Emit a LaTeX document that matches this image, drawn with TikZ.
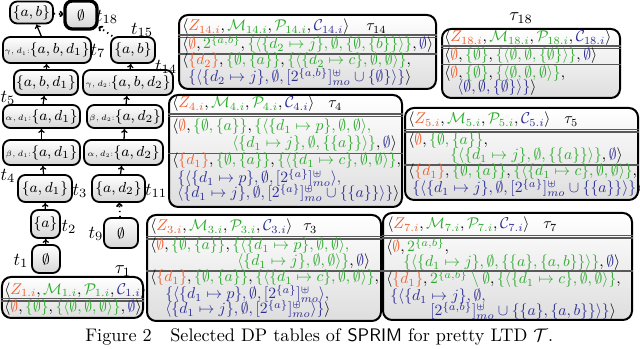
\RequirePackage{fix-cm}
\documentclass[tikz,border=0pt]{standalone}
\usepackage{amsmath,amssymb}
\usepackage{graphicx}
\usetikzlibrary{arrows.meta}
\definecolor{zor}{RGB}{240,95,45}
\definecolor{mgr}{RGB}{45,170,45}
\definecolor{cbl}{RGB}{45,45,150}
\newcommand{\zcol}[1]{\textcolor{zor}{#1}}
\newcommand{\gcol}[1]{\textcolor{mgr}{#1}}
\newcommand{\bcol}[1]{\textcolor{cbl}{#1}}
\newcommand{\es}{\emptyset}
\newcommand{\upm}[1]{[2^{\{#1\}}]^{\uplus}_{mo}}
\newcommand{\rowm}[1]{\scalebox{0.86}{$#1$}}
\newcommand{\hdr}[1]{\rowm{\langle\zcol{Z_{#1.i}},\gcol{\mathcal{M}_{#1.i}},\gcol{\mathcal{P}_{#1.i}},\bcol{\mathcal{C}_{#1.i}}\rangle}}
\newcommand{\pre}[1]{{\fontsize{4.3}{5}\selectfont$#1$:}}
\tikzset{
  sz/.style 2 args={minimum width=#1*0.55pt, minimum height=#2*0.55pt},
  tnode/.style={draw=black, line width=1pt, rounded corners=4pt, top color=white, bottom color=black!16, inner sep=0pt, font=\fontsize{8}{9}\selectfont},
  tblbox/.style={draw=black, line width=1.1pt, rounded corners=5pt, top color=white, bottom color=black!13, inner sep=0pt},
  trow/.style={anchor=base west, inner sep=0pt, font=\fontsize{10}{12}\selectfont},
  lab/.style={inner sep=0pt, font=\fontsize{10}{11}\selectfont},
  rulel/.style={draw=black!65, line width=0.75pt},
  arr/.style={-{To[length=2.2pt,width=3.6pt]}, line width=0.7pt},
  darr/.style={arr, dotted, line width=1pt},
}
\begin{document}
\begin{tikzpicture}[x=0.55pt, y=-0.55pt]
\useasboundingbox (0,0) rectangle (640,349);
% ---------- tree ----------
\node[tnode, sz={32}{28}, line width=1.8pt] (n18) at (81,15) {$\es$};
\node[tnode, sz={43}{22}] (nab) at (31.5,12.5) {$\{a,b\}$};
\node[tnode, sz={88}{26}] (n7) at (47,50) {\pre{\gamma,d_1}$\{a,b,d_1\}$};
\node[tnode, sz={44}{26}] (n15) at (133,50) {$\{a,b\}$};
\node[tnode, sz={64}{25}] (n6) at (46,82.5) {$\{a,b,d_1\}$};
\node[tnode, sz={90}{25}] (n14) at (128,82.5) {\pre{\gamma,d_2}$\{a,b,d_2\}$};
\node[tnode, sz={77}{23}] (n5) at (41.5,116.5) {\pre{\alpha,d_1}$\{a,d_1\}$};
\node[tnode, sz={76}{23}] (n13) at (125,116.5) {\pre{\beta,d_2}$\{a,d_2\}$};
\node[tnode, sz={77}{25}] (n4) at (41.5,152.5) {\pre{\beta,d_1}$\{a,d_1\}$};
\node[tnode, sz={79}{25}] (n12) at (123.5,152.5) {\pre{\alpha,d_2}$\{a,d_2\}$};
\node[tnode, sz={54}{27}] (n3) at (45,188.5) {$\{a,d_1\}$};
\node[tnode, sz={53}{27}] (n11) at (118.5,188.5) {$\{a,d_2\}$};
\node[tnode, sz={29}{28}] (n2) at (45.5,224) {$\{a\}$};
\node[tnode, sz={34}{30}] (n9) at (121,233) {$\es$};
\node[tnode, sz={28}{28}] (n1) at (46,259) {$\es$};
% labels
\node[lab] (l18) at (107,17) {$t_{18}$};
\node[lab] (l7) at (98,51) {$t_{7}$};
\node[lab] (l15) at (142,30) {$t_{15}$};
\node[lab] (l14) at (166,67) {$t_{14}$};
\node[lab] (l5) at (8,98) {$t_{5}$};
\node[lab] (l4) at (8,176) {$t_{4}$};
\node[lab] (l3) at (80,191) {$t_{3}$};
\node[lab] (l11) at (156,191) {$t_{11}$};
\node[lab] (l2) at (69,227) {$t_{2}$};
\node[lab] (l9) at (96,234) {$t_{9}$};
\node[lab] (l1) at (21,261) {$t_{1}$};
% connectors
\draw[arr] (n1) -- (n2);
\draw[arr] (n2) -- (n3);
\draw[arr] (n3) -- (n4);
\draw[arr] (n4) -- (n5);
\draw[arr] (n5) -- (n6);
\draw[arr] (n6) -- (n7);
\draw[arr] (n7) -- (nab);
\draw[arr] (n11) -- (n12);
\draw[arr] (n12) -- (n13);
\draw[arr] (n13) -- (n14);
\draw[arr] (n14) -- (n15);
\draw[darr] (n9) -- (n11);
\draw[darr] (nab) -- (n18);
\draw[darr] (n15) -- (n18);
% ---------- tau 14 ----------
\node[tblbox, sz={257}{74}] (T14) at (307.5,52) {};
\node[trow] (h14) at (182,31) {\hdr{14}};
\node[trow] (k14) at (366,31) {\rowm{\tau_{14}}};
\draw[rulel] (T14.west |- 0,35) -- (T14.east |- 0,35);
\draw[rulel] (T14.west |- 0,37.5) -- (T14.east |- 0,37.5);
\node[trow] (a14) at (182,49) {\rowm{\langle\zcol{\es},\gcol{2^{\{a,b\}}},\gcol{\{\langle\{d_2\mapsto j\},\es,\{\es,\{b\}\}\rangle\}},\bcol{\es}\rangle}};
\draw[rulel] (T14.west |- 0,54) -- (T14.east |- 0,54);
\node[trow] (b14) at (182,65) {\rowm{\langle\zcol{\{d_2\}},\gcol{\{\es,\{a\}\}},\gcol{\{\langle\{d_2\mapsto c\},\es,\es\rangle\}},}};
\node[trow] (c14) at (188,82) {\rowm{\bcol{\{\langle\{d_2\mapsto j\},\es,\upm{a,b}\cup\{\es\}\rangle\}}\rangle}};
% ---------- tau 18 ----------
\node[lab] (k18) at (521,18) {$\tau_{18}$};
\node[tblbox, sz={178}{69}] (T18) at (531,63.5) {};
\node[trow] (h18) at (444,42) {\hdr{18}};
\draw[rulel] (T18.west |- 0,46) -- (T18.east |- 0,46);
\draw[rulel] (T18.west |- 0,48.5) -- (T18.east |- 0,48.5);
\node[trow] (a18) at (444,60) {\rowm{\langle\zcol{\es},\gcol{\{\es\}},\gcol{\{\langle\es,\es,\{\es\}\rangle\}},\bcol{\es}\rangle}};
\draw[rulel] (T18.west |- 0,64.5) -- (T18.east |- 0,64.5);
\node[trow] (b18) at (444,78) {\rowm{\langle\zcol{\es},\gcol{\{\es\}},\gcol{\{\langle\es,\es,\es\rangle\}},}};
\node[trow] (c18) at (457,92) {\rowm{\bcol{\langle\es,\es,\{\es\}\rangle\}}\rangle}};
% ---------- tau 4 ----------
\node[tblbox, sz={233}{112}] (T4) at (285.5,151) {};
\node[trow] (h4) at (172,108) {\hdr{4}};
\node[trow] (k4) at (328,108) {\rowm{\tau_{4}}};
\draw[rulel] (T4.west |- 0,114) -- (T4.east |- 0,114);
\draw[rulel] (T4.west |- 0,116.5) -- (T4.east |- 0,116.5);
\node[trow] (a4) at (172,131) {\rowm{\langle\zcol{\es},\gcol{\{\es,\{a\}\}},\gcol{\{\langle\{d_1\mapsto p\},\es,\es\rangle,}}};
\node[trow] (b4) at (232,148) {\rowm{\gcol{\langle\{d_1\mapsto j\},\es,\{\{a\}\}\rangle\}},\bcol{\es}\rangle}};
\draw[rulel] (T4.west |- 0,153.5) -- (T4.east |- 0,153.5);
\node[trow] (c4) at (172,165) {\rowm{\langle\zcol{\{d_1\}},\gcol{\{\es,\{a\}\}},\gcol{\{\langle\{d_1\mapsto c\},\es,\es\rangle\}},}};
\node[trow] (d4) at (177,183) {\rowm{\bcol{\{\langle\{d_1\mapsto p\},\es,\upm{a}\rangle,}}};
\node[trow] (e4) at (177,198) {\rowm{\bcol{\langle\{d_1\mapsto j\},\es,\upm{a}\cup\{\{a\}\}\rangle\}}\rangle}};
% ---------- tau 5 ----------
\node[tblbox, sz={233}{92}] (T5) at (521.5,154) {};
\node[trow] (h5) at (408,124) {\hdr{5}};
\node[trow] (k5) at (564,124) {\rowm{\tau_{5}}};
\draw[rulel] (T5.west |- 0,129.5) -- (T5.east |- 0,129.5);
\draw[rulel] (T5.west |- 0,132) -- (T5.east |- 0,132);
\node[trow] (a5) at (408,145) {\rowm{\langle\zcol{\es},\gcol{\{\es,\{a\}\}},}};
\node[trow] (b5) at (450,160) {\rowm{\gcol{\{\langle\{d_1\mapsto j\},\es,\{\{a\}\}\rangle\}},\bcol{\es}\rangle}};
\draw[rulel] (T5.west |- 0,165) -- (T5.east |- 0,165);
\node[trow] (c5) at (408,176) {\rowm{\langle\zcol{\{d_1\}},\gcol{\{\es,\{a\}\}},\gcol{\{\langle\{d_1\mapsto c\},\es,\es\rangle\}},}};
\node[trow] (d5) at (412,193) {\rowm{\bcol{\{\langle\{d_1\mapsto j\},\es,\upm{a}\cup\{\{a\}\}\rangle\}}\rangle}};
% ---------- tau 3 ----------
\node[tblbox, sz={234}{106}] (T3) at (264,268) {};
\node[trow] (h3) at (150,231) {\hdr{3}};
\node[trow] (k3) at (303,231) {\rowm{\tau_{3}}};
\draw[rulel] (T3.west |- 0,236.5) -- (T3.east |- 0,236.5);
\draw[rulel] (T3.west |- 0,239) -- (T3.east |- 0,239);
\node[trow] (a3) at (150,250) {\rowm{\langle\zcol{\es},\gcol{\{\es,\{a\}\}},\gcol{\{\langle\{d_1\mapsto p\},\es,\es\rangle,}}};
\node[trow] (b3) at (237,266) {\rowm{\gcol{\langle\{d_1\mapsto j\},\es,\es\rangle\}},\bcol{\es}\rangle}};
\draw[rulel] (T3.west |- 0,271) -- (T3.east |- 0,271);
\node[trow] (c3) at (150,282) {\rowm{\langle\zcol{\{d_1\}},\gcol{\{\es,\{a\}\}},\gcol{\{\langle\{d_1\mapsto c\},\es,\es\rangle\}},}};
\node[trow] (d3) at (165,299) {\rowm{\bcol{\{\langle\{d_1\mapsto p\},\es,\upm{a}\rangle,}}};
\node[trow] (e3) at (165,314) {\rowm{\bcol{\langle\{d_1\mapsto j\},\es,\upm{a}\rangle\}}\rangle}};
% ---------- tau 7 ----------
\node[tblbox, sz={249}{107}] (T7) at (507.5,266.5) {};
\node[trow] (h7) at (387,229) {\hdr{7}};
\node[trow] (k7) at (543,229) {\rowm{\tau_{7}}};
\draw[rulel] (T7.west |- 0,235.5) -- (T7.east |- 0,235.5);
\draw[rulel] (T7.west |- 0,238) -- (T7.east |- 0,238);
\node[trow] (a7) at (386,252) {\rowm{\langle\zcol{\es},\gcol{2^{\{a,b\}}},}};
\node[trow] (b7) at (403,267) {\rowm{\gcol{\{\langle\{d_1\mapsto j\},\es,\{\{a\},\{a,b\}\}\rangle\}},\bcol{\es}\rangle}};
\draw[rulel] (T7.west |- 0,271) -- (T7.east |- 0,271);
\node[trow] (c7) at (386,284) {\rowm{\langle\zcol{\{d_1\}},\gcol{2^{\{a,b\}}\setminus\es},\gcol{\{\langle\{d_1\mapsto c\},\es,\es\rangle\}},}};
\node[trow] (d7) at (390,301) {\rowm{\bcol{\{\langle\{d_1\mapsto j\},\es,}}};
\node[trow] (e7) at (430,316) {\rowm{\bcol{\upm{a,b}\cup\{\{a\},\{a,b\}\}\rangle\}}\rangle}};
% ---------- tau 1 ----------
\node[lab] (k1) at (123,271) {$\tau_{1}$};
\node[tblbox, sz={141}{41}] (T1) at (72.5,297.5) {};
\node[trow] (h1) at (4,294.5) {\hdr{1}};
\draw[rulel] (T1.west |- 0,298.5) -- (T1.east |- 0,298.5);
\draw[rulel] (T1.west |- 0,301) -- (T1.east |- 0,301);
\node[trow] (a1) at (4,312) {\rowm{\langle\zcol{\es},\gcol{\{\es\}},\gcol{\{\langle\es,\es,\es\rangle\}},\bcol{\es}\rangle}};
% ---------- caption ----------
\node[anchor=base west, inner sep=0pt, font=\fontsize{10}{12}\selectfont] (fig) at (85,342) {Figure 2};
\node[anchor=base west, inner sep=0pt, font=\fontsize{10}{12}\selectfont] (cap) at (170,342) {Selected DP tables of \textsf{SPRIM} for pretty LTD $\mathcal{T}$.};
\end{tikzpicture}
\end{document}
